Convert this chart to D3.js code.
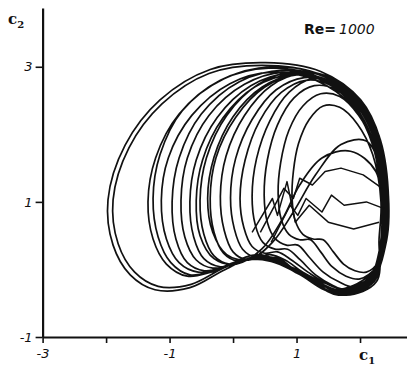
<!DOCTYPE html>
<html>
<head>
<meta charset="utf-8">
<script src="https://cdn.jsdelivr.net/npm/d3@7/dist/d3.min.js"></script>
<style>
  html, body { margin: 0; padding: 0; background: #fff; }
  svg { display: block; }
  text { fill: #111; }
</style>
</head>
<body>
<svg id="chart" width="407" height="369"></svg>
<script>
// Phase-plane trajectory (c1, c2) at Re = 1000, loop by loop
const loop01 = [[2.40,0.38],[2.45,1.03],[2.32,1.92],[2.01,2.51],[1.38,2.93],[0.51,3.06],[-0.36,2.96],[-1.15,2.51],[-1.70,1.84],[-1.97,1.03],[-1.89,0.36],[-1.62,-0.08],[-1.23,-0.30],[-0.68,-0.27],[-0.12,0.00],[0.43,0.20],[1.06,-0.08],[1.61,-0.36],[2.16,-0.20]];
const loop02 = [[2.36,0.42],[2.40,1.10],[2.28,1.95],[1.96,2.50],[1.32,2.90],[0.45,3.02],[-0.38,2.90],[-1.12,2.45],[-1.64,1.80],[-1.89,1.03],[-1.81,0.38],[-1.55,-0.04],[-1.18,-0.25],[-0.66,-0.22],[-0.15,0.02],[0.40,0.22],[1.02,-0.06],[1.58,-0.34],[2.12,-0.16]];
const loop03 = [[2.34,0.40],[2.38,1.05],[2.25,1.90],[1.92,2.45],[1.35,2.85],[0.56,2.98],[-0.20,2.80],[-0.85,2.30],[-1.22,1.65],[-1.34,1.00],[-1.26,0.45],[-1.05,0.08],[-0.72,-0.10],[-0.35,-0.04],[0.05,0.10],[0.50,0.16],[1.05,-0.02],[1.60,-0.30],[2.15,-0.08]];
const loop04 = [[2.40,0.45],[2.42,1.15],[2.30,1.98],[1.98,2.52],[1.40,2.88],[0.60,3.00],[-0.15,2.82],[-0.80,2.35],[-1.15,1.70],[-1.26,1.05],[-1.18,0.48],[-0.98,0.10],[-0.68,-0.08],[-0.32,-0.02],[0.08,0.12],[0.55,0.14],[1.10,-0.06],[1.65,-0.36],[2.20,-0.14]];
const loop05 = [[2.33,0.38],[2.36,1.00],[2.22,1.85],[1.90,2.40],[1.30,2.80],[0.62,2.92],[-0.05,2.75],[-0.65,2.28],[-1.02,1.65],[-1.13,1.02],[-1.05,0.45],[-0.85,0.10],[-0.55,-0.04],[-0.22,0.02],[0.15,0.14],[0.60,0.12],[1.12,-0.10],[1.62,-0.30],[2.18,-0.10]];
const loop06 = [[2.42,0.44],[2.44,1.20],[2.30,1.95],[1.98,2.48],[1.45,2.85],[0.80,2.95],[0.10,2.78],[-0.50,2.30],[-0.85,1.65],[-0.96,1.00],[-0.90,0.45],[-0.72,0.10],[-0.45,-0.02],[-0.12,0.04],[0.25,0.16],[0.68,0.10],[1.15,-0.12],[1.66,-0.38],[2.22,-0.18]];
const loop07 = [[2.37,0.40],[2.39,1.08],[2.26,1.92],[1.94,2.45],[1.42,2.82],[0.80,2.92],[0.18,2.74],[-0.38,2.28],[-0.72,1.65],[-0.82,1.02],[-0.76,0.48],[-0.58,0.14],[-0.32,0.02],[0.00,0.08],[0.35,0.18],[0.74,0.08],[1.20,-0.10],[1.68,-0.32],[2.20,-0.12]];
const loop08 = [[2.32,0.36],[2.35,1.02],[2.22,1.86],[1.90,2.42],[1.40,2.80],[0.85,2.90],[0.28,2.72],[-0.25,2.25],[-0.58,1.62],[-0.68,1.00],[-0.62,0.48],[-0.46,0.16],[-0.20,0.04],[0.10,0.10],[0.42,0.20],[0.80,0.06],[1.24,-0.14],[1.70,-0.34],[2.18,-0.14]];
const loop09 = [[2.39,0.42],[2.41,1.12],[2.28,1.94],[1.98,2.50],[1.50,2.85],[0.95,2.93],[0.40,2.74],[-0.10,2.28],[-0.42,1.65],[-0.52,1.02],[-0.46,0.52],[-0.30,0.20],[-0.06,0.08],[0.22,0.14],[0.52,0.20],[0.86,0.02],[1.28,-0.16],[1.72,-0.34],[2.24,-0.12]];
const loop10 = [[2.35,0.40],[2.37,1.05],[2.24,1.88],[1.94,2.44],[1.48,2.80],[1.00,2.88],[0.50,2.70],[0.04,2.25],[-0.27,1.65],[-0.36,1.05],[-0.30,0.55],[-0.15,0.24],[0.08,0.12],[0.34,0.16],[0.62,0.18],[0.94,0.00],[1.32,-0.18],[1.74,-0.32],[2.20,-0.10]];
const loop11 = [[2.41,0.46],[2.43,1.18],[2.30,1.96],[2.00,2.50],[1.55,2.84],[1.08,2.90],[0.60,2.72],[0.18,2.28],[-0.11,1.68],[-0.20,1.08],[-0.14,0.58],[0.00,0.26],[0.22,0.14],[0.46,0.18],[0.72,0.16],[1.02,-0.04],[1.38,-0.22],[1.78,-0.38],[2.26,-0.18]];
const loop12 = [[2.36,0.40],[2.38,1.08],[2.25,1.90],[1.96,2.44],[1.55,2.78],[1.12,2.84],[0.68,2.66],[0.30,2.22],[0.04,1.64],[-0.04,1.06],[0.02,0.60],[0.15,0.30],[0.36,0.18],[0.58,0.22],[0.82,0.14],[1.10,-0.04],[1.44,-0.20],[1.80,-0.30],[2.22,-0.08]];
const loop13 = [[2.32,0.36],[2.34,1.00],[2.20,1.84],[1.92,2.38],[1.55,2.72],[1.15,2.80],[0.76,2.62],[0.42,2.20],[0.19,1.62],[0.11,1.05],[0.17,0.62],[0.30,0.34],[0.50,0.24],[0.70,0.26],[0.92,0.14],[1.18,-0.04],[1.50,-0.22],[1.84,-0.30],[2.20,-0.06]];
const loop14 = [[2.38,0.44],[2.40,1.15],[2.27,1.92],[1.98,2.45],[1.62,2.76],[1.24,2.82],[0.88,2.62],[0.58,2.20],[0.37,1.64],[0.30,1.08],[0.35,0.66],[0.47,0.40],[0.66,0.30],[0.86,0.30],[1.06,0.14],[1.30,-0.08],[1.58,-0.24],[1.88,-0.34],[2.24,-0.12]];
const loop15 = [[2.34,0.42],[2.36,1.05],[2.22,1.85],[1.95,2.36],[1.62,2.66],[1.28,2.72],[0.96,2.54],[0.70,2.14],[0.54,1.62],[0.49,1.10],[0.54,0.70],[0.66,0.46],[0.84,0.36],[1.02,0.36],[1.20,0.18],[1.42,-0.04],[1.66,-0.18],[1.92,-0.26],[2.22,-0.02]];
const loop16 = [[2.36,0.48],[2.38,1.10],[2.24,1.80],[1.98,2.28],[1.68,2.56],[1.38,2.60],[1.10,2.42],[0.88,2.06],[0.75,1.58],[0.71,1.12],[0.76,0.74],[0.88,0.52],[1.05,0.44],[1.22,0.44],[1.38,0.26],[1.56,0.04],[1.78,-0.10],[2.00,-0.14],[2.26,0.04]];
const loop17 = [[2.30,0.45],[2.33,1.00],[2.20,1.70],[1.96,2.15],[1.68,2.40],[1.42,2.42],[1.20,2.22],[1.03,1.86],[0.95,1.45],[0.93,1.05],[0.98,0.72],[1.10,0.52],[1.26,0.45],[1.42,0.44],[1.58,0.26],[1.74,0.08],[1.92,-0.02],[2.10,-0.04],[2.28,0.10]];
// loops that cut back up through the core after the crossing
const loop18 = [[2.36,0.42],[2.40,1.10],[2.26,1.90],[1.96,2.44],[1.50,2.80],[0.98,2.88],[0.46,2.70],[0.00,2.26],[-0.30,1.66],[-0.40,1.05],[-0.32,0.55],[-0.10,0.22],[0.25,0.14],[0.62,0.40],[0.95,0.85],[1.30,1.40],[1.70,1.85],[2.10,1.90],[2.34,1.40]];
const loop19 = [[2.33,0.40],[2.36,1.05],[2.22,1.86],[1.92,2.42],[1.46,2.78],[0.90,2.88],[0.34,2.70],[-0.16,2.24],[-0.48,1.62],[-0.58,1.02],[-0.52,0.50],[-0.30,0.16],[0.05,0.08],[0.45,0.30],[0.78,0.75],[1.05,1.25],[1.40,1.65],[1.85,1.75],[2.25,1.45]];

// order in which the loops are traversed
const trajectory = [loop01, loop06, loop12, loop03, loop09, loop18, loop15, loop02, loop08, loop14, loop05, loop11, loop17, loop19, loop04, loop10, loop16, loop07, loop13];

// jagged transients inside the right-hand core
const jag1 = [[0.43,0.55],[0.80,1.20],[0.95,1.05],[1.05,1.35],[1.25,1.25],[1.45,1.45],[1.70,1.50],[2.05,1.40],[2.35,1.20]];
const jag2 = [[0.60,0.40],[0.90,0.95],[1.02,0.80],[1.15,1.05],[1.40,0.85],[1.55,1.10],[1.75,0.95],[2.10,1.00],[2.38,0.90]];
const jag3 = [[0.30,0.55],[0.62,1.05],[0.70,0.80],[0.85,1.30],[0.98,0.70],[1.20,0.95],[1.50,0.70],[1.90,0.60],[2.30,0.70]];
const jags = [jag1, jag2, jag3];

// axis ticks and labels
const xTicks = [-3, -2, -1, 0, 1, 2];
const xTickLabels = ["-3", "", "-1", "", "1", ""];
const yTicks = [-1, 1, 3];
const yTickLabels = ["-1", "1", "3"];

const svg = d3.select("#chart");
const x = d3.scaleLinear().domain([-3, 2.74]).range([42.6, 407]);
const y = d3.scaleLinear().domain([-1, 3.87]).range([337, 8]);

const line = d3.line().x(d => x(d[0])).y(d => y(d[1])).curve(d3.curveCatmullRom.alpha(0.5));
const jagLine = d3.line().x(d => x(d[0])).y(d => y(d[1])).curve(d3.curveLinear);

const pts = trajectory.flat();
svg.append("path")
  .attr("d", line(pts.concat([pts[0]])))
  .attr("fill", "none").attr("stroke", "#111").attr("stroke-width", 1.7)
  .attr("stroke-linejoin", "round");

svg.selectAll("path.jag").data(jags).join("path")
  .attr("class", "jag")
  .attr("d", jagLine)
  .attr("fill", "none").attr("stroke", "#111").attr("stroke-width", 1.5)
  .attr("stroke-linejoin", "round");

// axes
const xAxis = d3.axisBottom(x).tickValues(xTicks).tickSize(6).tickSizeOuter(0)
  .tickFormat((d, i) => xTickLabels[i]);
const gx = svg.append("g").attr("transform", `translate(0,${y(-1)})`).call(xAxis);
gx.select(".domain").attr("stroke", "#111").attr("stroke-width", 2.2);
gx.selectAll(".tick line").attr("stroke", "#111").attr("stroke-width", 1.6);
gx.selectAll(".tick text").attr("font-family", "DejaVu Sans").attr("font-size", 13)
  .attr("font-style", "italic").attr("dy", "0.9em");

const yAxis = d3.axisLeft(y).tickValues(yTicks).tickSize(7).tickSizeOuter(0)
  .tickFormat((d, i) => yTickLabels[i]);
const gy = svg.append("g").attr("transform", `translate(${x(-3)},0)`).call(yAxis);
gy.select(".domain").attr("stroke", "#111").attr("stroke-width", 2.2);
gy.selectAll(".tick line").attr("stroke", "#111").attr("stroke-width", 1.6);
gy.selectAll(".tick text").attr("font-family", "DejaVu Sans").attr("font-size", 13)
  .attr("font-style", "italic");

// axis names
const c2 = svg.append("text").attr("x", 8).attr("y", 24)
  .attr("font-family", "DejaVu Serif").attr("font-weight", "bold").attr("font-size", 15);
c2.append("tspan").text("c");
c2.append("tspan").attr("font-size", 10).attr("dy", 4).text("2");

const c1 = svg.append("text").attr("x", x(2) - 1).attr("y", 360)
  .attr("font-family", "DejaVu Serif").attr("font-weight", "bold").attr("font-size", 15);
c1.append("tspan").text("c");
c1.append("tspan").attr("font-size", 10).attr("dy", 4).text("1");

// Reynolds number
const re = svg.append("text").attr("x", 304).attr("y", 34)
  .attr("font-family", "DejaVu Sans").attr("font-size", 14);
re.append("tspan").attr("font-weight", "bold").text("Re=");
re.append("tspan").attr("font-style", "italic").attr("dx", 3).text("1000");
</script>
</body>
</html>
